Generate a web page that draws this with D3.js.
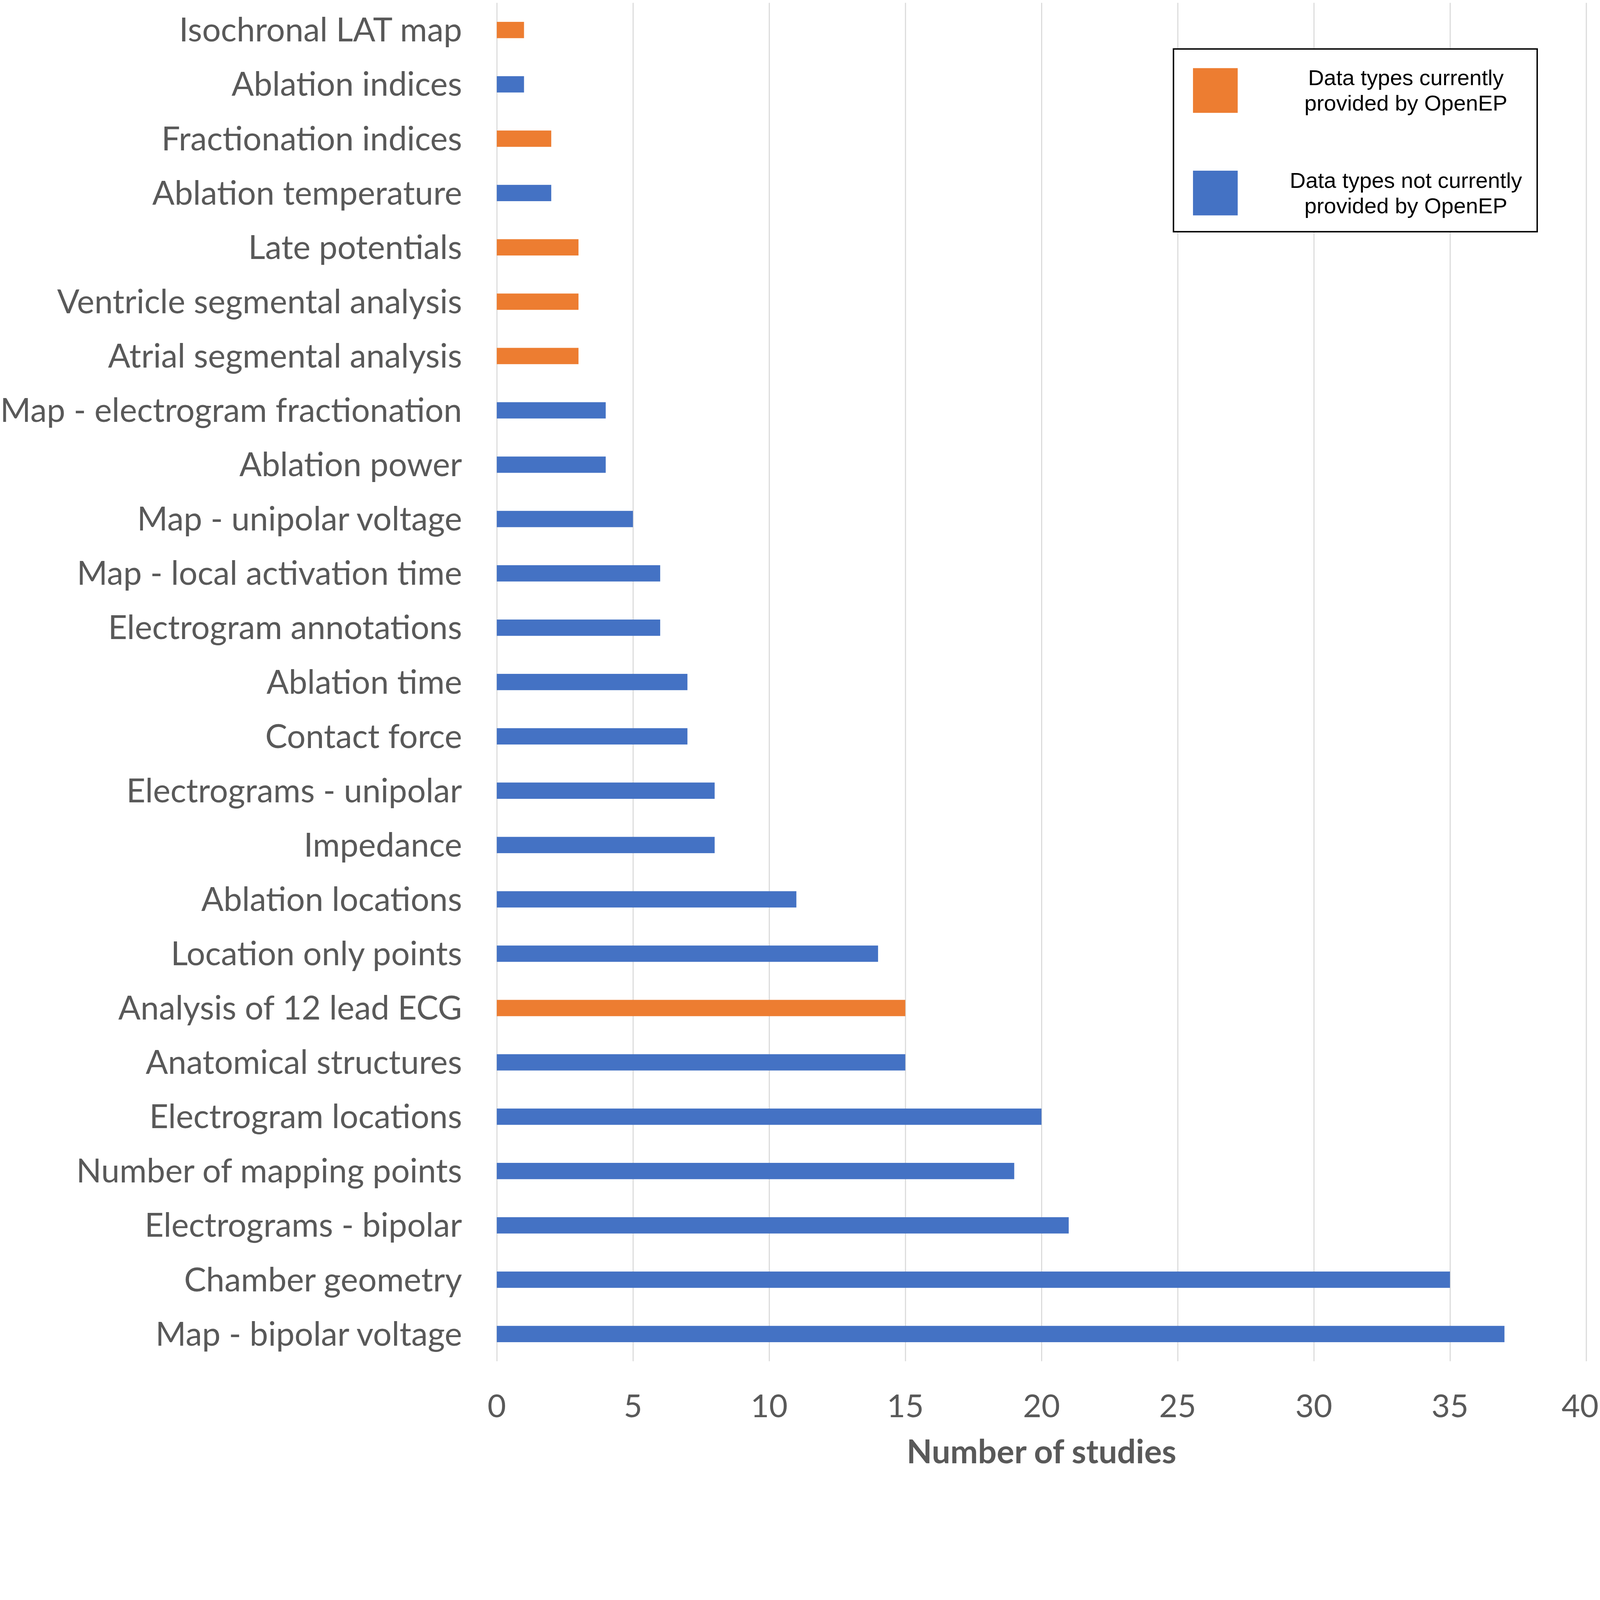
<!DOCTYPE html>
<html lang="en">
<head>
    <meta charset="utf-8">
    <title>Number of studies by data type</title>
    <script src="https://d3js.org/d3.v7.min.js"></script>
    <style>
        html, body { margin: 0; padding: 0; background: white; overflow: hidden; }
        svg { display: block; width: 100vw; height: 100vh; }
        .grid line { stroke: #d9d9d9; stroke-width: 3; }
        .grid .domain { display: none; }
        .cat { font-family: Lato, "Open Sans", sans-serif; fill: #595959; }
        .legend-box { fill: white; stroke: black; stroke-width: 4; }
        .legend-text { font-family: "Liberation Sans", Arial, sans-serif; font-size: 62px; fill: black; }
    </style>
</head>
<body>
    <script type="text/javascript">
        var W = 4509, H = 4133;
        var margin = { left: 1400, top: 8, right: 39, bottom: 297 };

        // categories from top to bottom
        var categories = [
            "Isochronal LAT map", "Ablation indices", "Fractionation indices", "Ablation temperature",
            "Late potentials", "Ventricle segmental analysis", "Atrial segmental analysis",
            "Map - electrogram fractionation", "Ablation power", "Map - unipolar voltage",
            "Map - local activation time", "Electrogram annotations", "Ablation time", "Contact force",
            "Electrograms - unipolar", "Impedance", "Ablation locations", "Location only points",
            "Analysis of 12 lead ECG", "Anatomical structures", "Electrogram locations",
            "Number of mapping points", "Electrograms - bipolar", "Chamber geometry", "Map - bipolar voltage"
        ];
        var studies = [1, 1, 2, 2, 3, 3, 3, 4, 4, 5, 6, 6, 7, 7, 8, 8, 11, 14, 15, 15, 20, 19, 21, 35, 37];
        // true = currently provided by OpenEP
        var provided = [true, false, true, false, true, true, true, false, false, false, false, false, false,
            false, false, false, false, false, true, false, false, false, false, false, false];
        var xTicks = [0, 5, 10, 15, 20, 25, 30, 35, 40];
        var legendLabels = [
            ["Data types currently", "provided by OpenEP"],
            ["Data types not currently", "provided by OpenEP"]
        ];
        var colors = { provided: "#ED7D31", other: "#4472C4" };

        var rows = categories.map((c, i) => ({ name: c, value: studies[i], provided: provided[i] }));

        var pw = W - margin.left - margin.right;
        var ph = H - margin.top - margin.bottom;

        var svg = d3.select("body").append("svg")
            .attr("viewBox", `0 0 ${W} ${H}`)
            .attr("preserveAspectRatio", "xMidYMin meet");

        var plot = svg.append("g").attr("transform", `translate(${margin.left}, ${margin.top})`);

        var x = d3.scaleLinear().domain([0, 40]).range([0, pw]);
        var y = d3.scaleBand().domain(categories).range([0, ph]).paddingInner(0.7).paddingOuter(0.35);

        // vertical gridlines
        plot.append("g")
            .attr("class", "grid")
            .attr("transform", `translate(0, ${ph})`)
            .call(d3.axisBottom(x).tickValues(xTicks).tickSize(ph).tickFormat(""))
            .selectAll("line").attr("y2", -ph);

        // bars
        plot.append("g")
            .selectAll("rect")
            .data(rows).enter()
            .append("rect")
            .attr("x", x(0))
            .attr("y", d => y(d.name))
            .attr("width", d => x(d.value) - x(0))
            .attr("height", y.bandwidth())
            .attr("fill", d => d.provided ? colors.provided : colors.other);

        // category labels
        plot.append("g")
            .selectAll("text")
            .data(rows).enter()
            .append("text")
            .attr("class", "cat")
            .attr("x", -98)
            .attr("y", d => y(d.name) + y.bandwidth() / 2)
            .attr("dy", "0.35em")
            .attr("text-anchor", "end")
            .attr("font-size", 93)
            .text(d => d.name);

        // tick labels (kept inside the right edge)
        plot.append("g")
            .selectAll("text")
            .data(xTicks).enter()
            .append("text")
            .attr("class", "cat")
            .attr("x", d => x(d))
            .attr("y", ph + 158)
            .attr("text-anchor", "middle")
            .attr("font-size", 90)
            .text(d => d)
            .each(function (d) {
                var half = this.getComputedTextLength() / 2;
                var maxX = W - margin.left - 4 - half;
                if (x(d) > maxX) d3.select(this).attr("x", maxX);
            });

        // axis title
        plot.append("text")
            .attr("class", "cat")
            .attr("x", x(20))
            .attr("y", ph + 288)
            .attr("text-anchor", "middle")
            .attr("font-size", 93)
            .attr("font-weight", "bold")
            .text("Number of studies");

        // legend
        var legend = svg.append("g").attr("transform", "translate(3307, 138)");
        legend.append("rect")
            .attr("class", "legend-box")
            .attr("width", 1025)
            .attr("height", 515);

        var items = legend.selectAll("g.item")
            .data(legendLabels).enter()
            .append("g")
            .attr("class", "item")
            .attr("transform", (d, i) => `translate(0, ${54 + i * 289})`);

        items.append("rect")
            .attr("x", 55)
            .attr("width", 126)
            .attr("height", 126)
            .attr("fill", (d, i) => i === 0 ? colors.provided : colors.other);

        items.append("text")
            .attr("class", "legend-text")
            .attr("text-anchor", "middle")
            .selectAll("tspan")
            .data(d => d).enter()
            .append("tspan")
            .attr("x", 655)
            .attr("y", (d, i) => 48 + i * 72)
            .text(d => d);
    </script>
</body>
</html>
